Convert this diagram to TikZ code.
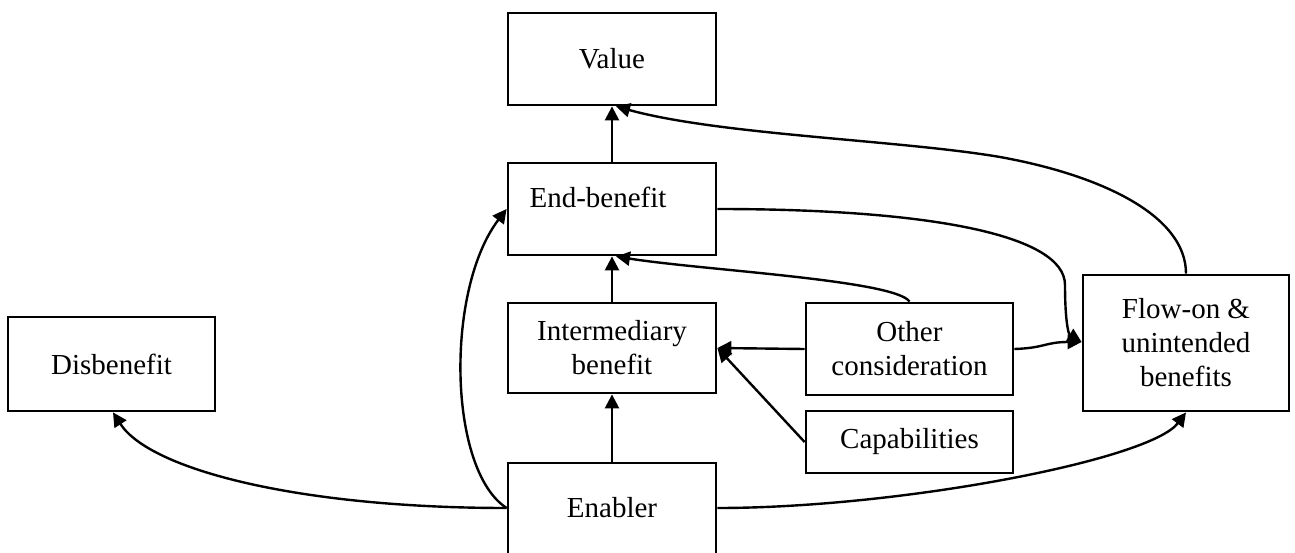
\documentclass[tikz,border=0pt]{standalone}
\usepackage{fontspec}
\setmainfont{Liberation Serif}
\usetikzlibrary{arrows.meta,calc}
\begin{document}
\begin{tikzpicture}[x=1pt,y=-1pt,
  box/.style={draw,line width=2.8pt,inner sep=0pt,align=center,font=\fontsize{29}{34}\selectfont},
  txt/.style={inner sep=0pt,align=center,font=\fontsize{29}{34}\selectfont},
  arr/.style={line width=2.4pt,-{Triangle[length=14pt,width=14pt]}},
  ln/.style={line width=2.4pt}]
\useasboundingbox (0,0) rectangle (1295,553);
\fill[white] (0,0) rectangle (1295,553);
\clip (0,0) rectangle (1295,553);
% boxes
\node[box,minimum width=208pt,minimum height=92pt] (val) at (612,59) {Value};
\node[box,minimum width=208pt,minimum height=92pt] (eb) at (612,209) {};
\node[txt] (ebtxt) at (598,197) {End-benefit};
\node[box,minimum width=208pt,minimum height=90pt] (ib) at (612,348) {Intermediary\\benefit};
\node[box,minimum width=208pt,minimum height=110pt] (en) at (612,518) {};
\node[txt] (entxt) at (612,508) {Enabler};
\node[box,minimum width=207pt,minimum height=92pt] (oc) at (909.5,349) {Other\\consideration};
\node[box,minimum width=207pt,minimum height=62pt] (cap) at (909.5,442) {Capabilities};
\node[box,minimum width=206pt,minimum height=136pt] (fo) at (1186,343) {Flow-on \&\\unintended\\benefits};
\node[box,minimum width=207pt,minimum height=94pt] (dis) at (111.5,364) {Disbenefit};
% helper coordinates
\coordinate (enL) at (en.west |- entxt.center);
\coordinate (enR) at (en.east |- entxt.center);
\coordinate (ebS) at ($(eb.south)+(4,0)$);
\coordinate (valS) at ($(val.south)+(4,0)$);
\coordinate (ebW) at (eb.west);
\coordinate (foW) at ($(fo.west)+(0,-1)$);
\coordinate (foS) at (fo.south);
\coordinate (disS) at ($(dis.south)+(1.5,0)$);
\coordinate (ebE) at (eb.east);
% straight connectors
\draw[arr] (en.north) -- (ib.south);
\draw[arr] (ib.north) -- (eb.north |- eb.south);
\draw[arr] (eb.north) -- (val.south);
\draw[arr] (oc.west) -- (ib.east);
\draw[arr] (cap.west) -- (ib.east);
% curved connectors
\draw[arr] (oc.north) .. controls (895,280) and (700,270) .. (ebS);
\draw[arr] (ebE) .. controls (930,209) and (1065,235) .. (1065,285)
           .. controls (1065,318) and (1068,334) .. (foW);
\draw[arr] (oc.east) .. controls (1045,348) and (1045,342) .. (foW);
\draw[arr] (fo.north) .. controls (1186,215) and (1100,175) .. (1000,157)
           .. controls (900,140) and (720,135) .. (valS);
\draw[arr] (enL) .. controls (300,508) and (150,470) .. (disS);
\draw[arr] (enL) .. controls (448,470) and (445,290) .. (ebW);
\draw[arr] (enR) .. controls (900,508) and (1150,460) .. (foS);
\end{tikzpicture}
\end{document}
